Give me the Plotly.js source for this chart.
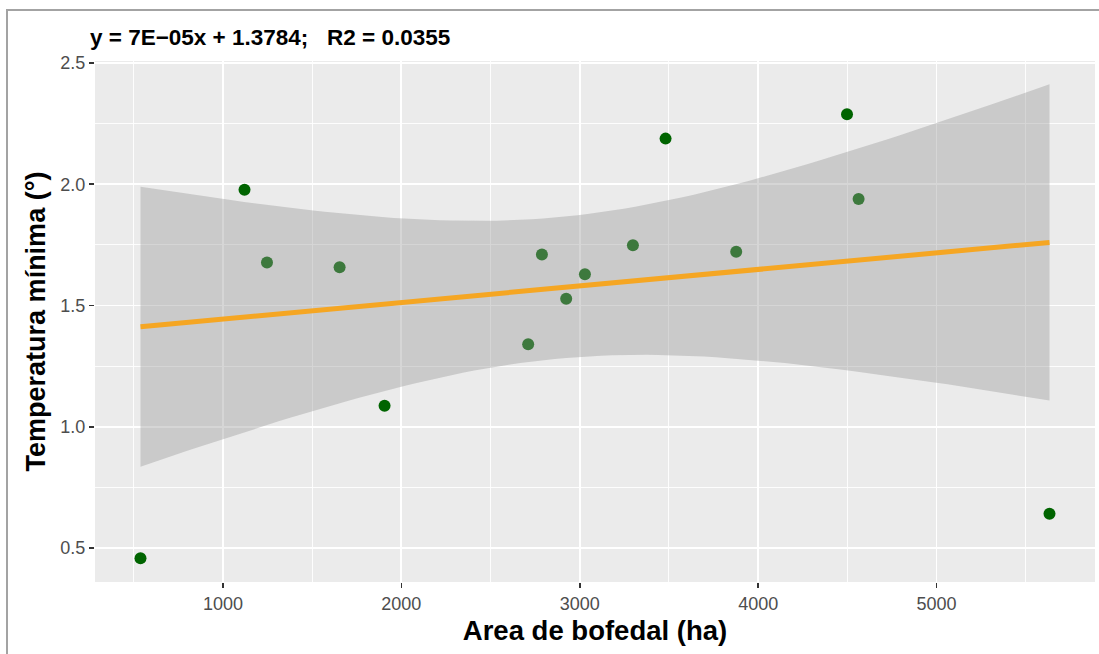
<!DOCTYPE html>
<html>
<head>
<meta charset="utf-8">
<script src="https://cdn.plot.ly/plotly-3.0.1.min.js"></script>
<style>
  html, body { margin: 0; padding: 0; background: #fff; overflow: hidden; }
  #wrap { position: relative; width: 1099px; height: 654px; }
  #chart { width: 1099px; height: 654px; }
  #frame { position: absolute; left: 6px; top: 9px; width: 1200px; height: 800px;
           border-left: 2px solid #a3a3a3; border-top: 2px solid #a3a3a3; pointer-events: none; }
</style>
</head>
<body>
<div id="wrap">
  <div id="chart"></div>
  <div id="frame"></div>
</div>
<script>
// Data
const area = [538, 1121, 1247, 1654, 1906, 2711, 2788, 2924, 3029, 3298, 3481, 3877, 4498, 4563, 5633];
const tmin = [0.458, 1.977, 1.677, 1.658, 1.087, 1.340, 1.710, 1.528, 1.629, 1.748, 2.188, 1.722, 2.288, 1.939, 0.641];
const xTicks = [1000, 2000, 3000, 4000, 5000];
const yTicks = [0.5, 1.0, 1.5, 2.0, 2.5];
const titleText = "y = 7E\u221205x + 1.3784;   R2 = 0.0355";
const xTitle = "Area de bofedal (ha)";
const yTitle = "Temperatura m\u00ednima (\u00b0)";

// Linear fit and 95% confidence band (as geom_smooth(method = "lm"))
const n = area.length;
const mx = area.reduce((a, b) => a + b, 0) / n;
const my = tmin.reduce((a, b) => a + b, 0) / n;
let sxx = 0, sxy = 0;
for (let i = 0; i < n; i++) { sxx += (area[i] - mx) ** 2; sxy += (area[i] - mx) * (tmin[i] - my); }
const slope = sxy / sxx;
const intercept = my - slope * mx;
let sse = 0;
for (let i = 0; i < n; i++) { sse += (tmin[i] - (intercept + slope * area[i])) ** 2; }
const s = Math.sqrt(sse / (n - 2));
const tCrit = 2.1604; // qt(0.975, 13)
const xmin = Math.min(...area), xmax = Math.max(...area);
const nGrid = 80;
const gx = [], gy = [], up = [], lo = [];
for (let k = 0; k < nGrid; k++) {
  const x = xmin + (xmax - xmin) * k / (nGrid - 1);
  const yh = intercept + slope * x;
  const se = s * Math.sqrt(1 / n + (x - mx) ** 2 / sxx);
  gx.push(x); gy.push(yh); up.push(yh + tCrit * se); lo.push(yh - tCrit * se);
}
const bandX = gx.concat(gx.slice().reverse());
const bandY = up.concat(lo.slice().reverse());

const traces = [
  { type: 'scatter', mode: 'markers', x: area, y: tmin,
    marker: { color: '#006400', size: 12, line: { width: 0 } }, hoverinfo: 'x+y' },
  { type: 'scatter', mode: 'lines', x: bandX, y: bandY, fill: 'toself',
    fillcolor: 'rgba(153,153,153,0.4)', line: { width: 0, color: 'rgba(0,0,0,0)' }, hoverinfo: 'skip' },
  { type: 'scatter', mode: 'lines', x: gx, y: gy,
    line: { color: '#F5A623', width: 5 }, hoverinfo: 'skip' }
];

const tickFont = { family: '"Liberation Sans Narrow", "Arial Narrow", "Liberation Sans", Arial, sans-serif', size: 18, color: '#4d4d4d' };

const layout = {
  width: 1099, height: 654,
  margin: { l: 95, r: 4, t: 61, b: 72 },
  paper_bgcolor: '#ffffff',
  plot_bgcolor: '#ebebeb',
  showlegend: false,
  title: {
    text: '<b>' + titleText + '</b>',
    font: { family: '"Liberation Sans", Arial, sans-serif', size: 22.5, color: '#000' },
    xref: 'container', x: 90 / 1099, xanchor: 'left',
    yref: 'container', y: 1 - 37 / 654, yanchor: 'middle'
  },
  xaxis: {
    range: [283, 5888],
    tickvals: xTicks, ticktext: xTicks.map(v => String(v)),
    ticks: 'outside', ticklen: 5, tickwidth: 1.5, tickcolor: '#333333',
    tickfont: tickFont,
    showgrid: true, gridcolor: '#ffffff', gridwidth: 1.8,
    minor: { tick0: 500, dtick: 1000, showgrid: true, gridcolor: '#ffffff', gridwidth: 0.9, ticks: '' },
    zeroline: false, showline: false,
    title: { text: '<b>' + xTitle + '</b>', font: { family: '"Liberation Sans", Arial, sans-serif', size: 27.5, color: '#000' }, standoff: 8 }
  },
  yaxis: {
    range: [0.360, 2.508],
    tickvals: yTicks, ticktext: yTicks.map(v => v.toFixed(1)),
    ticks: 'outside', ticklen: 5, tickwidth: 1.5, tickcolor: '#333333',
    tickfont: tickFont,
    showgrid: true, gridcolor: '#ffffff', gridwidth: 1.8,
    minor: { tick0: 0.25, dtick: 0.5, showgrid: true, gridcolor: '#ffffff', gridwidth: 0.9, ticks: '' },
    zeroline: false, showline: false,
    title: { text: '<b>' + yTitle + '</b>', font: { family: '"Liberation Sans", Arial, sans-serif', size: 27, color: '#000' }, standoff: 6 }
  }
};

Plotly.newPlot('chart', traces, layout, { displayModeBar: false, staticPlot: true });
</script>
</body>
</html>
